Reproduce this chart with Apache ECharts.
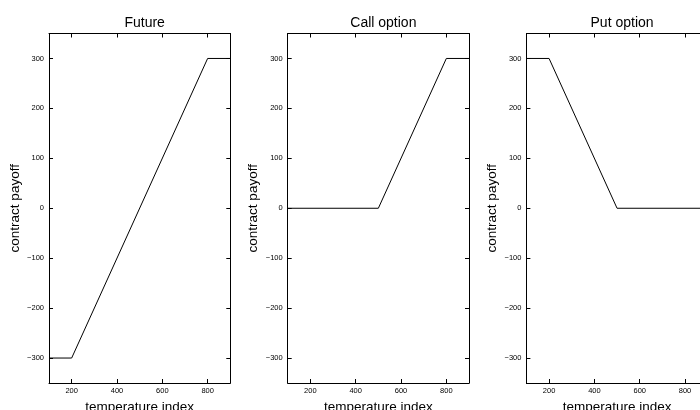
<!DOCTYPE html>
<html>
<head>
<meta charset="utf-8">
<script src="https://cdn.jsdelivr.net/npm/echarts@6/dist/echarts.min.js"></script>
<style>html,body{margin:0;padding:0;background:#fff}#c{width:700px;height:410px}</style>
</head>
<body>
<div id="c"></div>
<script>
const titles = ['Future', 'Call option', 'Put option'];
const futureX = [100, 200, 800, 900];
const futureY = [-300, -300, 300, 300];
const callX = [100, 500, 800, 900];
const callY = [0, 0, 300, 300];
const putX = [100, 200, 500, 900];
const putY = [300, 300, 0, 0];
const xTicks = [200, 400, 600, 800];
const yTicks = [-300, -200, -100, 0, 100, 200, 300];
const xName = 'temperature index';
const yName = 'contract payoff';

const seriesX = [futureX, callX, putX];
const seriesY = [futureY, callY, putY];

const FONT = 'Liberation Sans, Arial, Helvetica, sans-serif';
const lefts = [49, 287.7, 526.4];
const W = 181.3, TOP = 33.5, H = 349.5;

const grids = [], xAxes = [], yAxes = [], series = [], title = [];
const fmt = v => String(v).replace('-', '\u2212');
lefts.forEach((l, i) => {
  grids.push({left: l, top: TOP, width: W, height: H, containLabel: false, outerBoundsMode: 'none'});
  const lineCommon = {show: true, onZero: false, lineStyle: {color: '#000', width: 1}};
  xAxes.push({
    type: 'value', gridIndex: i, min: 100, max: 900, position: 'bottom',
    axisLine: lineCommon,
    axisTick: {show: true, inside: true, length: 4, customValues: xTicks, lineStyle: {color: '#000'}},
    axisLabel: {show: true, customValues: xTicks, fontSize: 7.5, color: '#000', fontFamily: FONT, margin: 4},
    splitLine: {show: false},
    name: xName, nameLocation: 'middle', nameGap: 15,
    nameTextStyle: {fontSize: 13.5, color: '#000', fontFamily: FONT}
  });
  xAxes.push({
    type: 'value', gridIndex: i, min: 100, max: 900, position: 'top',
    axisLine: lineCommon,
    axisTick: {show: true, inside: true, length: 4, customValues: xTicks, lineStyle: {color: '#000'}},
    axisLabel: {show: false}, splitLine: {show: false}
  });
  yAxes.push({
    type: 'value', gridIndex: i, min: -350, max: 350, position: 'left',
    axisLine: lineCommon,
    axisTick: {show: true, inside: true, length: 4, customValues: yTicks, lineStyle: {color: '#000'}},
    axisLabel: {show: true, customValues: yTicks, fontSize: 7.5, color: '#000', fontFamily: FONT, margin: 5, formatter: fmt},
    splitLine: {show: false},
    name: yName, nameLocation: 'middle', nameGap: 27,
    nameTextStyle: {fontSize: 13.5, color: '#000', fontFamily: FONT}
  });
  yAxes.push({
    type: 'value', gridIndex: i, min: -350, max: 350, position: 'right',
    axisLine: lineCommon,
    axisTick: {show: true, inside: true, length: 4, customValues: yTicks, lineStyle: {color: '#000'}},
    axisLabel: {show: false}, splitLine: {show: false}
  });
  series.push({
    type: 'line', xAxisIndex: 2 * i, yAxisIndex: 2 * i,
    data: seriesX[i].map((x, k) => [x, seriesY[i][k]]),
    symbol: 'none', lineStyle: {color: '#000', width: 1}, silent: true
  });
  title.push({
    text: titles[i], left: l + W / 2, top: 11, textAlign: 'center',
    textStyle: {fontSize: 14, fontWeight: 'normal', color: '#000', fontFamily: FONT}
  });
});

const chart = echarts.init(document.getElementById('c'), null, {renderer: 'canvas'});
chart.setOption({
  animation: false,
  backgroundColor: '#fff',
  title: title,
  grid: grids,
  xAxis: xAxes,
  yAxis: yAxes,
  series: series
});
</script>
</body>
</html>
